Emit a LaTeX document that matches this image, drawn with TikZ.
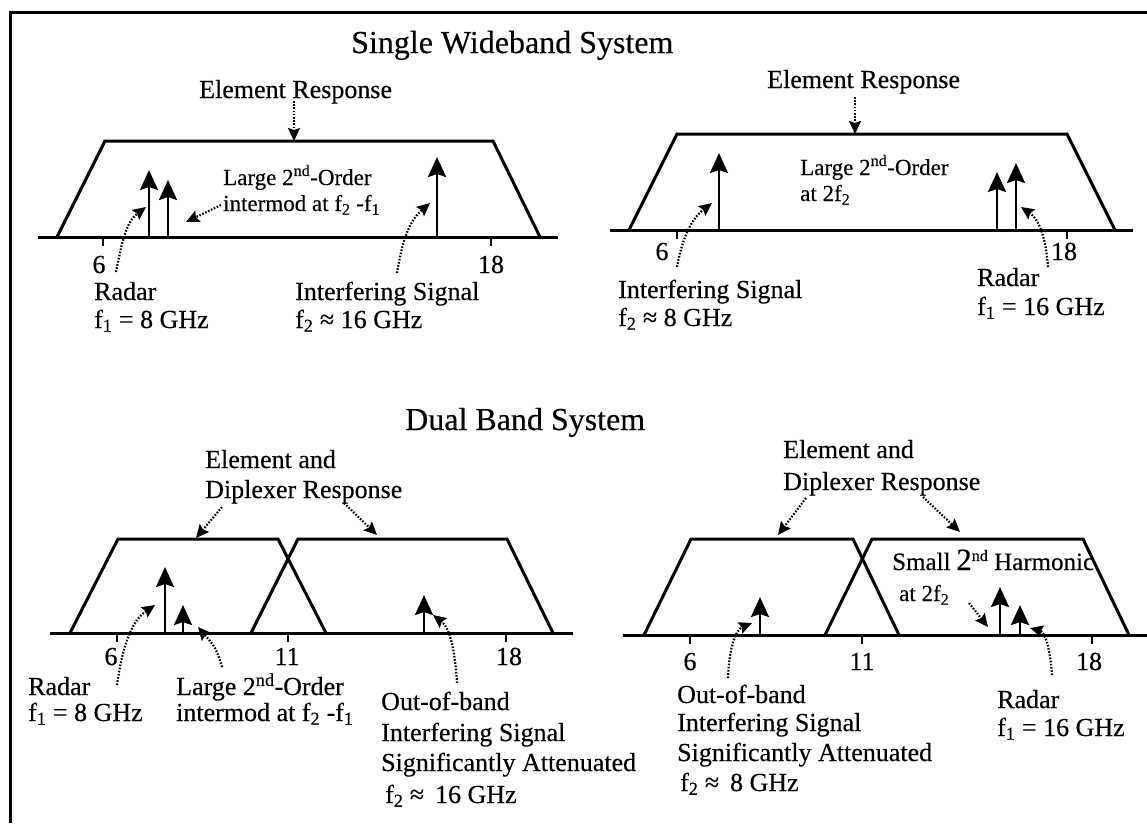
\documentclass[tikz,border=0pt]{standalone}
\usepackage{fontspec}
\setmainfont{Liberation Serif}[FakeBold=0.35]
\usetikzlibrary{arrows.meta}
\tikzset{
  band/.style={line width=3pt, line join=miter},
  axisline/.style={line width=3pt},
  tickmark/.style={line width=2pt},
  sig/.style={line width=2.5pt, -{Stealth[length=20pt,width=18pt,inset=3pt]}},
  ptr/.style={line width=2.2pt, dash pattern=on 1.6pt off 1.6pt, -{Stealth[length=13pt,width=12pt,inset=2pt]}},
  lbl/.style={font=\fontsize{26}{30}\selectfont, inner sep=0pt, anchor=base west},
  inlbl/.style={font=\fontsize{23}{27}\selectfont, inner sep=0pt, anchor=base west},
  num/.style={font=\fontsize{26}{30}\selectfont, inner sep=0pt, anchor=base},
  ttl/.style={font=\fontsize{32}{36}\selectfont, inner sep=0pt, anchor=base west},
}
\begin{document}
\begin{tikzpicture}[x=1pt,y=-1pt]
\useasboundingbox (0,0) rectangle (1147,823);
% frame
\draw[line width=3pt] (10,823) coordinate (fa) -- (10,12) coordinate (fb) -- (1147,12) coordinate (fc);

% ================= Single wideband: left =================
\node[ttl] (t1) at (351,53) {Single Wideband System};
\draw[axisline] (38,237) coordinate (a1s) -- (558,237) coordinate (a1e);
\draw[band] (57,237) -- (105,141) -- (493,141) -- (540,237);
\draw[tickmark] (103,237) -- (103,246);
\draw[tickmark] (491,237) -- (491,246);
\draw[sig] (149,237) coordinate (p1a) -- (149,170) coordinate (p1b);
\draw[sig] (168,237) coordinate (p2a) -- (168,180) coordinate (p2b);
\draw[sig] (437,237) coordinate (p3a) -- (437,157) coordinate (p3b);
\node[lbl] (er1) at (199,98) {Element Response};
\node[inlbl] (lo1) at (223,185) {Large 2\textsuperscript{nd}-Order};
\node[inlbl] (im1) at (223,211) {intermod at f\textsubscript{2} -f\textsubscript{1}};
\node[num] (n6a) at (99,273) {6};
\node[num] (n18a) at (491,273) {18};
\node[lbl] (rd1) at (94,300) {Radar};
\node[lbl] (rf1) at (94,328) {f\textsubscript{1} = 8 GHz};
\node[lbl] (is1) at (295,300) {Interfering Signal};
\node[lbl] (if1) at (295,328) {f\textsubscript{2} ≈ 16 GHz};
\draw[ptr] (294,101) coordinate (d1a) -- (294,141) coordinate (d1b);
\draw[ptr] (116,272) coordinate (d2a) .. controls (122,242) and (126,222) .. (146,207) coordinate (d2b);
\draw[ptr] (221,205) coordinate (d3a) -- (186,222) coordinate (d3b);
\draw[ptr] (397,273) coordinate (d4a) .. controls (402,243) and (408,222) .. (430,203) coordinate (d4b);

% ================= Single wideband: right =================
\draw[axisline] (610,230) coordinate (a2s) -- (1133,230) coordinate (a2e);
\draw[band] (629,230) -- (677,134) -- (1067,134) -- (1115,230);
\draw[tickmark] (677,230) -- (677,239);
\draw[tickmark] (1067,230) -- (1067,239);
\draw[sig] (719,230) coordinate (q1a) -- (719,153) coordinate (q1b);
\draw[sig] (997,230) coordinate (q2a) -- (997,172) coordinate (q2b);
\draw[sig] (1016,230) coordinate (q3a) -- (1016,163) coordinate (q3b);
\node[lbl] (er2) at (767,88) {Element Response};
\node[inlbl] (lo2) at (800,175) {Large 2\textsuperscript{nd}-Order};
\node[inlbl] (at2) at (800,201) {at 2f\textsubscript{2}};
\node[num] (n6b) at (662,260) {6};
\node[num] (n18b) at (1064,260) {18};
\node[lbl] (is2) at (618,298) {Interfering Signal};
\node[lbl] (if2) at (618,326) {f\textsubscript{2} ≈ 8 GHz};
\node[lbl] (rd2) at (977,286) {Radar};
\node[lbl] (rf2) at (977,315) {f\textsubscript{1} = 16 GHz};
\draw[ptr] (855,97) coordinate (e1a) -- (855,134) coordinate (e1b);
\draw[ptr] (677,267) coordinate (e2a) .. controls (682,240) and (690,220) .. (712,203) coordinate (e2b);
\draw[ptr] (1048,267) coordinate (e3a) .. controls (1046,240) and (1040,220) .. (1021,207) coordinate (e3b);

% ================= Dual band: left =================
\node[ttl] (t2) at (405,430) {Dual Band System};
\draw[axisline] (50,633) coordinate (a3s) -- (573,633) coordinate (a3e);
\draw[band] (70,633) -- (118,539) -- (278,539) -- (326,633);
\draw[band] (251,633) -- (298,539) -- (507,539) -- (553,633);
\draw[tickmark] (117,633) -- (117,642);
\draw[tickmark] (288,633) -- (288,642);
\draw[tickmark] (506,633) -- (506,642);
\draw[sig] (165,633) coordinate (r1a) -- (165,567) coordinate (r1b);
\draw[sig] (183,633) coordinate (r2a) -- (183,605) coordinate (r2b);
\draw[sig] (424,633) coordinate (r3a) -- (424,595) coordinate (r3b);
\node[lbl] (ea3) at (205,468) {Element and};
\node[lbl] (dr3) at (205,498) {Diplexer Response};
\node[num] (n6c) at (111,665) {6};
\node[num] (n11c) at (287,665) {11};
\node[num] (n18c) at (509,665) {18};
\node[lbl] (rd3) at (28,695) {Radar};
\node[lbl] (rf3) at (28,721) {f\textsubscript{1} = 8 GHz};
\node[lbl] (lo3) at (176,695) {Large 2\textsuperscript{nd}-Order};
\node[lbl] (im3) at (176,721) {intermod at f\textsubscript{2} -f\textsubscript{1}};
\node[lbl] (ob3) at (381,710) {Out-of-band};
\node[lbl] (is3) at (381,741) {Interfering Signal};
\node[lbl] (sa3) at (381,771) {Significantly Attenuated};
\node[lbl] (if3) at (385,803) {f\textsubscript{2} ≈\, 16 GHz};
\draw[ptr] (222,507) coordinate (g1a) -- (196,538) coordinate (g1b);
\draw[ptr] (344,503) coordinate (g2a) -- (377,535) coordinate (g2b);
\draw[ptr] (117,685) coordinate (g3a) .. controls (122,650) and (130,622) .. (155,605) coordinate (g3b);
\draw[ptr] (222,667) coordinate (g4a) .. controls (216,648) .. (198,627) coordinate (g4b);
\draw[ptr] (457,683) coordinate (g5a) .. controls (455,650) and (450,628) .. (433,615) coordinate (g5b);

% ================= Dual band: right =================
\draw[axisline] (623,635) coordinate (a4s) -- (1147,635) coordinate (a4e);
\node[inlbl] (sh4) at (892,570) {{\fontsize{25}{28}\selectfont Small} {\fontsize{31}{32}\selectfont 2}\textsuperscript{nd} {\fontsize{25}{28}\selectfont Harmonic}};
\draw[band] (644,635) -- (691,539) -- (853,539) -- (899,635);
\draw[band] (825,635) -- (872,539) -- (1083,539) -- (1129,635);
\draw[tickmark] (690,635) -- (690,644);
\draw[tickmark] (862,635) -- (862,644);
\draw[tickmark] (1092,635) -- (1092,644);
\draw[sig] (760,635) coordinate (u1a) -- (760,597) coordinate (u1b);
\draw[sig] (1000,635) coordinate (u2a) -- (1000,587) coordinate (u2b);
\draw[sig] (1020,635) coordinate (u3a) -- (1020,605) coordinate (u3b);
\node[lbl] (ea4) at (783,458) {Element and};
\node[lbl] (dr4) at (783,490) {Diplexer Response};
\node[num] (n6d) at (690,670) {6};
\node[num] (n11d) at (862,670) {11};
\node[num] (n18d) at (1089,670) {18};
\node[inlbl] (at4) at (899,601) {at 2f\textsubscript{2}};
\node[lbl] (ob4) at (677,703) {Out-of-band};
\node[lbl] (is4) at (677,731) {Interfering Signal};
\node[lbl] (sa4) at (677,761) {Significantly Attenuated};
\node[lbl] (if4) at (680,791) {f\textsubscript{2} ≈\, 8 GHz};
\node[lbl] (rd4) at (997,708) {Radar};
\node[lbl] (rf4) at (997,736) {f\textsubscript{1} = 16 GHz};
\draw[ptr] (806,498) coordinate (h1a) -- (778,535) coordinate (h1b);
\draw[ptr] (923,497) coordinate (h2a) -- (960,532) coordinate (h2b);
\draw[ptr] (728,678) coordinate (h3a) .. controls (729,650) and (735,630) .. (752,623) coordinate (h3b);
\draw[ptr] (969,603) coordinate (h4a) -- (988,627) coordinate (h4b);
\draw[ptr] (1052,675) coordinate (h5a) .. controls (1050,648) and (1045,632) .. (1030,628) coordinate (h5b);
\end{tikzpicture}
\end{document}
